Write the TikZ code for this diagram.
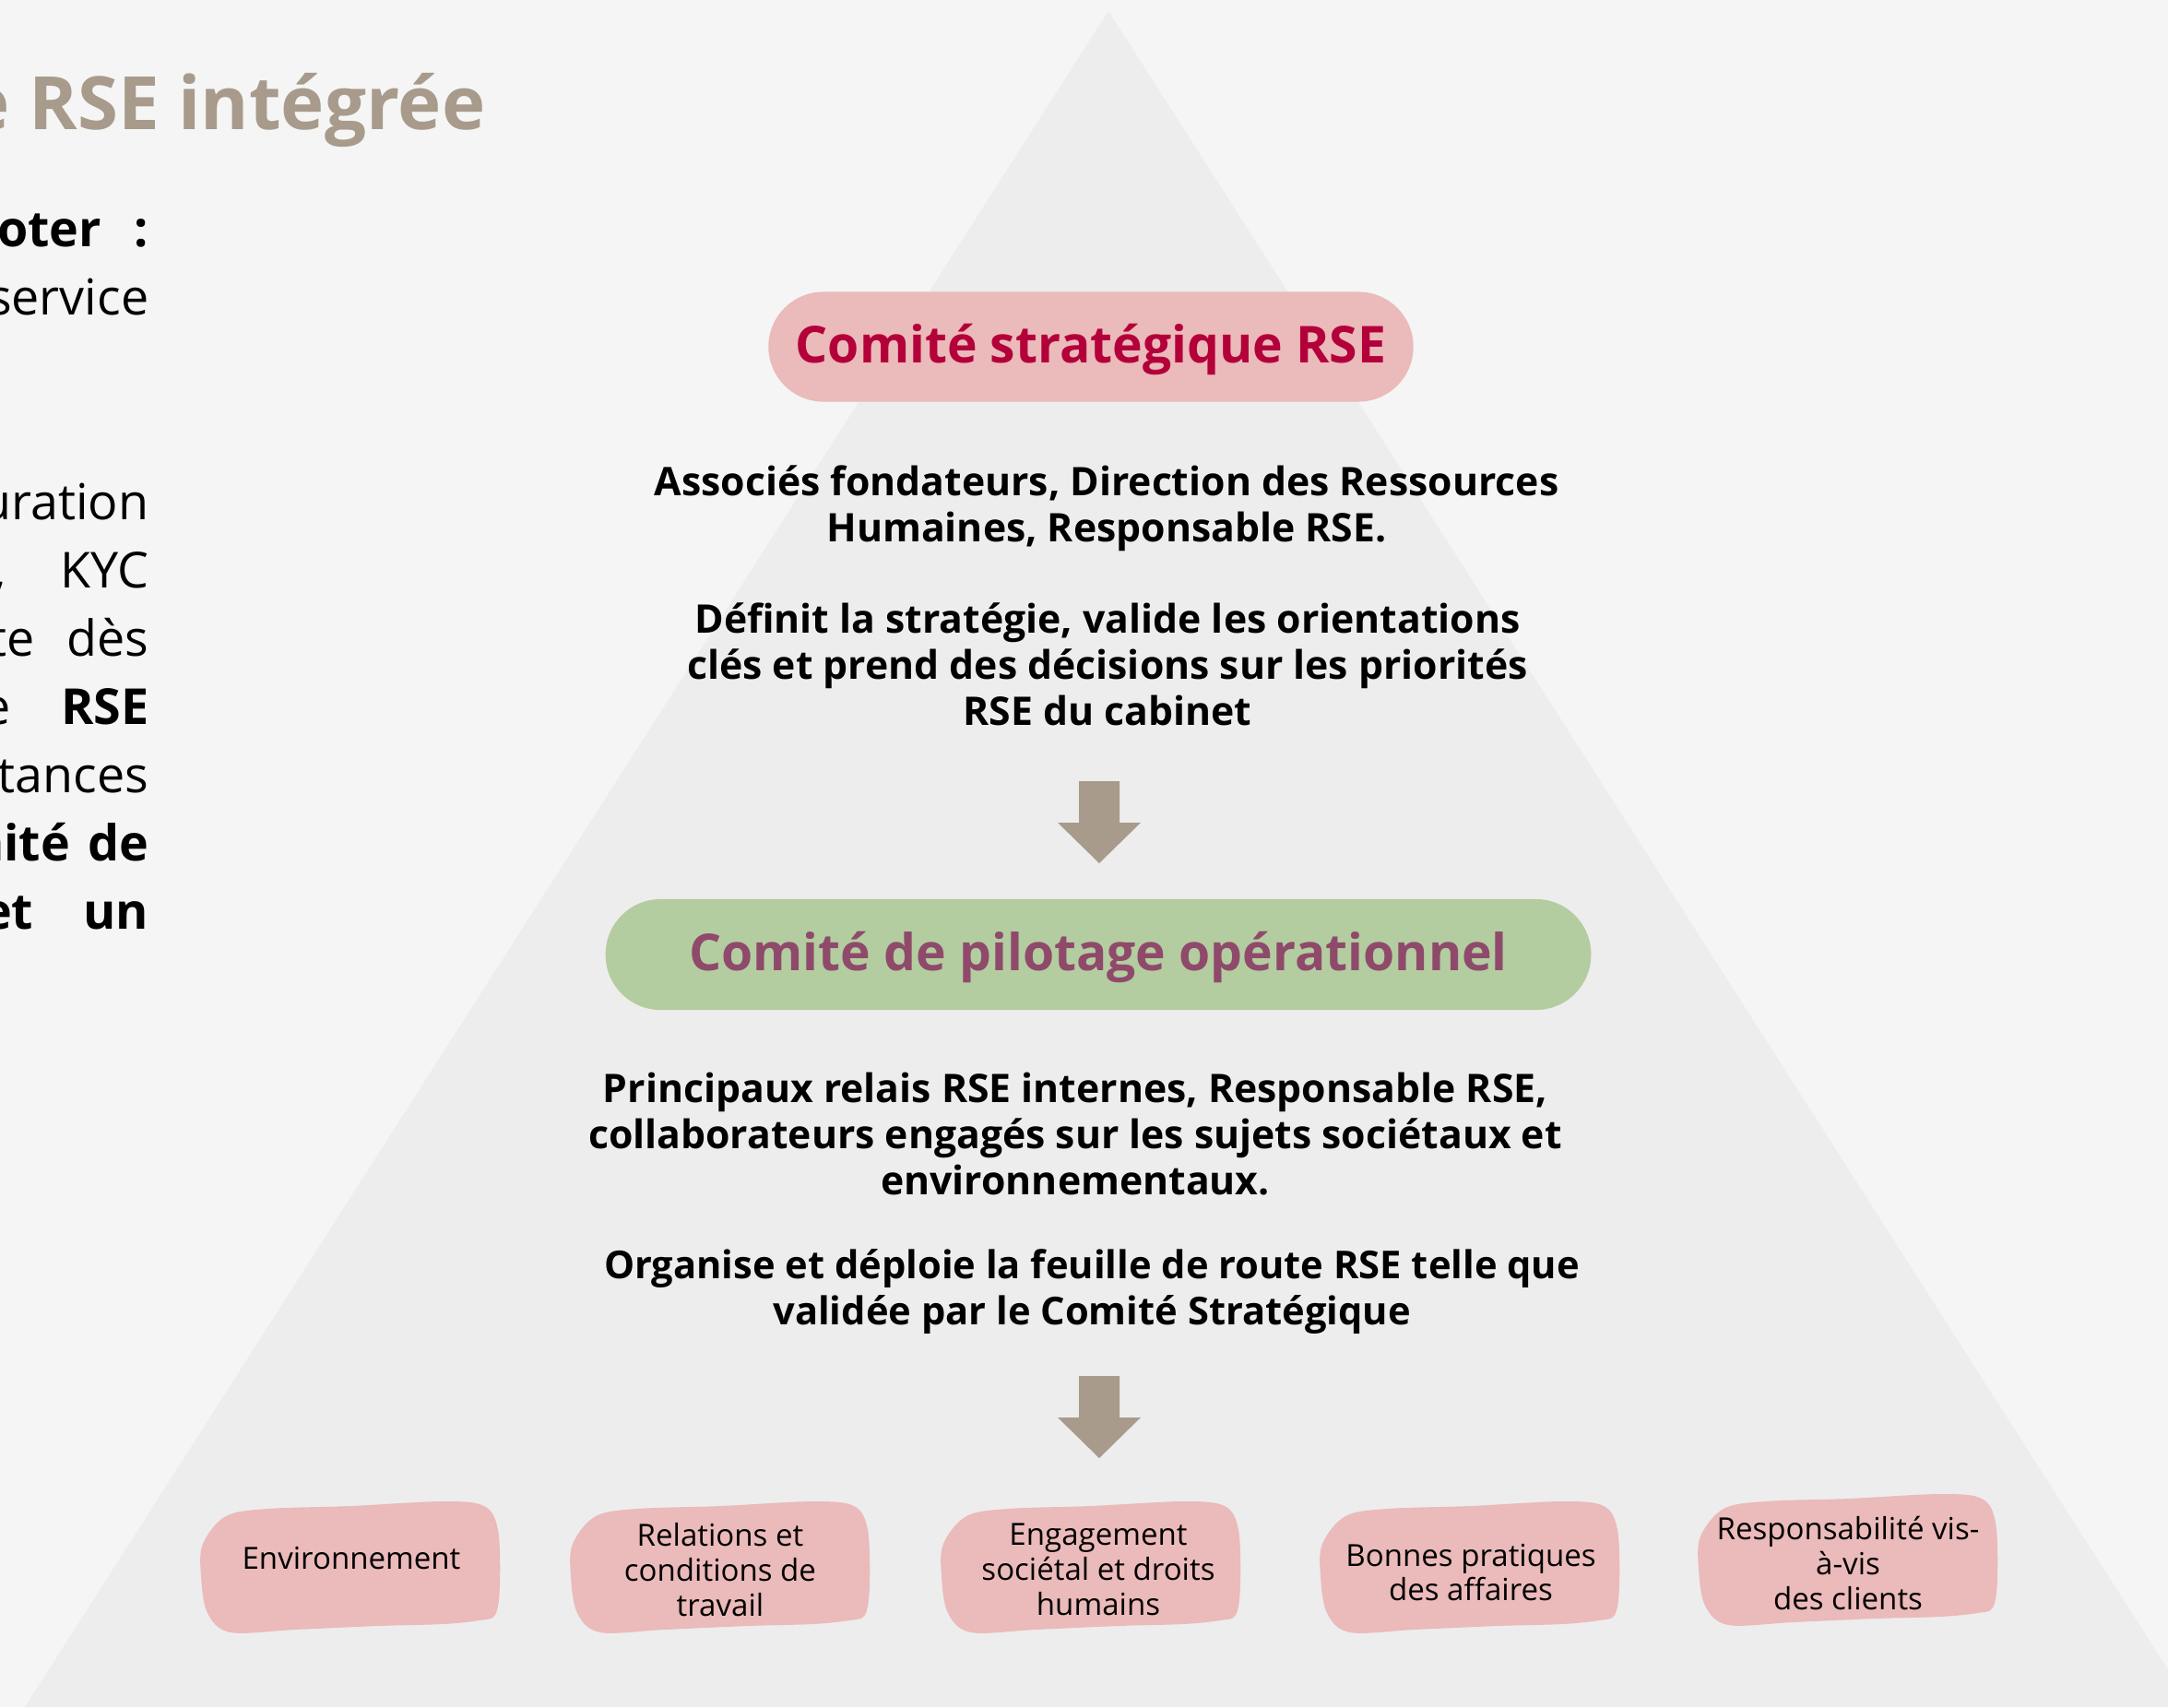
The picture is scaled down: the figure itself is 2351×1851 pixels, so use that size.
\documentclass[tikz,border=0pt]{standalone}
\usepackage{fontspec}
\setmainfont{Open Sans}
\usetikzlibrary{positioning}

\definecolor{fond}{HTML}{F5F5F5}
\definecolor{pyramide}{HTML}{EDEDED}
\definecolor{rose}{HTML}{EBBABA}
\definecolor{cramoisi}{HTML}{B4003A}
\definecolor{vert}{HTML}{B3CDA0}
\definecolor{prune}{HTML}{8F4A6B}
\definecolor{taupe}{HTML}{A89B8C}

\tikzset{
  pill/.style={rounded corners=0.595cm, inner sep=0pt, text height=1em, text depth=0pt,
    font=\fontsize{15.7}{19}\selectfont\bfseries},
  bloc/.style={align=center, inner sep=0pt, font=\fontsize{12.15}{14.1}\selectfont\bfseries},
  theme/.style={align=center, inner sep=0pt, font=\fontsize{9.4}{10.8}\selectfont},
  ligne/.style={anchor=base east, inner sep=0pt, font=\fontsize{15.3}{21}\selectfont},
  fleche/.style={fill=taupe},
  tache/.style={fill=rose},
}

\begin{document}
\begin{tikzpicture}[x=0.01cm, y=-0.01cm]
  \useasboundingbox (0,0) rectangle (2351,1851);
  \fill[fond] (0,0) rectangle (2351,1851);
  \fill[pyramide] (1202,12) -- (2377,1851) -- (27,1851) -- cycle;

  % titre coupe a gauche
  \node[anchor=base east, inner sep=0pt, text=taupe,
    font=\fontsize{22.7}{27}\selectfont\bfseries] (titre) at (527,140) {e RSE intégrée};

  % paragraphe justifie coupe a gauche
  \node[ligne] (l1) at (162,267) {\bfseries\makebox[1.64cm][s]{oter :}};
  \node[ligne] (l2) at (162,341) {service};
  \node[ligne] (l3) at (162,563) {uration};
  \node[ligne] (l4) at (162,637) {\makebox[1.68cm][s]{, KYC}};
  \node[ligne] (l5) at (162,711) {\makebox[1.73cm][s]{te dès}};
  \node[ligne] (l6) at (162,785) {\makebox[1.80cm][s]{e \textbf{RSE}}};
  \node[ligne] (l7) at (162,859) {tances};
  \node[ligne] (l8) at (162,933) {\bfseries\makebox[1.92cm][s]{nité de}};
  \node[ligne] (l9) at (162,1007) {\bfseries\makebox[1.80cm][s]{et un}};

  % comites
  \node[pill, fill=rose, text=cramoisi, minimum width=6.99cm, minimum height=1.19cm]
    (strat) at (1183,376) {Comité stratégique RSE};
  \node[bloc, anchor=base] (membres) at (1200,587)
    {Associés fondateurs, Direction des Ressources\\Humaines, Responsable RSE.};
  \node[bloc, anchor=base] (role) at (1201,786)
    {Définit la stratégie, valide les orientations\\clés et prend des décisions sur les priorités\\RSE du cabinet};

  \coordinate (f1) at (1192,847);
  \fill[fleche] (f1) ++(-22,0) -- ++(44,0) -- ++(0,45) -- ++(23,0) -- ++(-45,44) -- ++(-45,-44) -- ++(23,0) -- cycle;

  \node[pill, fill=vert, text=prune, minimum width=10.68cm, minimum height=1.2cm]
    (pilot) at (1191,1035) {Comité de pilotage opérationnel};
  \node[bloc, anchor=base] (relais) at (1166,1295)
    {Principaux relais RSE internes, Responsable RSE,\\collaborateurs engagés sur les sujets sociétaux et\\environnementaux.};
  \node[bloc, anchor=base, font=\fontsize{11.85}{14.1}\selectfont\bfseries] (feuille) at (1184,1436)
    {Organise et déploie la feuille de route RSE telle que\\validée par le Comité Stratégique};

  \coordinate (f2) at (1192,1492);
  \fill[fleche] (f2) ++(-22,0) -- ++(44,0) -- ++(0,45) -- ++(23,0) -- ++(-45,44) -- ++(-45,-44) -- ++(23,0) -- cycle;

  % themes
  \foreach \cx/\cy in {380/1699, 781/1699, 1183/1699, 1594/1699, 2004/1691}
    \fill[tache] plot[smooth cycle, tension=.55] coordinates {
      ({\cx-160},{\cy-25}) ({\cx-135},{\cy-55}) ({\cx-90},{\cy-63}) ({\cx},{\cy-66})
      ({\cx+100},{\cy-71}) ({\cx+145},{\cy-66}) ({\cx+160},{\cy-40}) ({\cx+162},{\cy+20})
      ({\cx+157},{\cy+52}) ({\cx+140},{\cy+58}) ({\cx+100},{\cy+62}) ({\cx+30},{\cy+64})
      ({\cx-60},{\cy+68}) ({\cx-130},{\cy+71}) ({\cx-155},{\cy+50}) ({\cx-162},{\cy+10})};

  \node[theme] (env) at (381,1690) {Environnement};
  \node[theme] (travail) at (781,1702) {Relations et\\conditions de\\travail};
  \node[theme] (societal) at (1191,1702) {Engagement\\sociétal et droits\\humains};
  \node[theme] (affaires) at (1595,1705) {Bonnes pratiques\\des affaires};
  \node[theme] (clients) at (2004,1695) {Responsabilité vis-\\à-vis\\des clients};
\end{tikzpicture}
\end{document}
